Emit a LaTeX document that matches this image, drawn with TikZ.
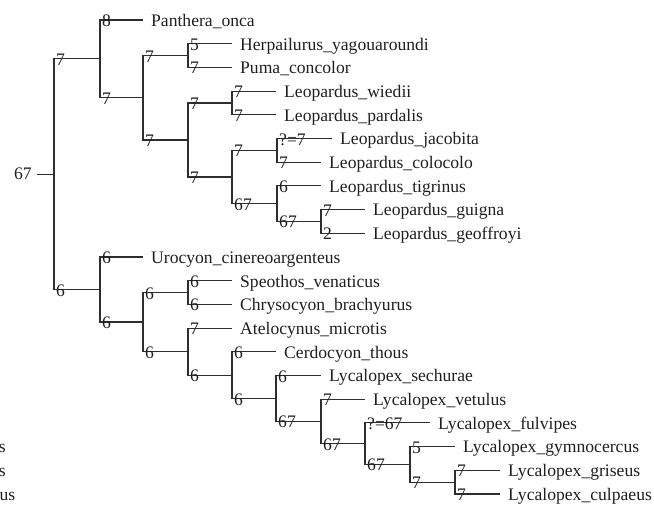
\documentclass[tikz,border=0pt]{standalone}
\usepackage{fontspec}
\setmainfont{Liberation Serif}
\newcommand\tedge[3]{%
  \draw[br] (#1) |- (#2);
  \node[supp, xshift=2pt, yshift=-6.5pt] at (#1 |- #2) {#3};}
\newcommand\ttip[3]{% name, end point, text
  \coordinate (#1) at (#2);
  \node[taxon, xshift=8pt, yshift=-6.3pt] (#1l) at (#1) {#3};}
\begin{document}
\begin{tikzpicture}[x=1pt,y=-1pt,
  br/.style={draw=black!82, line width=1.05pt},
  supp/.style={anchor=base west, inner sep=0pt, font=\fontsize{17.6}{20}\selectfont, text=black!88},
  taxon/.style={anchor=base west, inner sep=0pt, font=\fontsize{17.6}{20}\selectfont, text=black!88}]
\useasboundingbox (0,0) rectangle (654,507);
% internal nodes
\coordinate (R)  at (54,174.2);
\coordinate (F1) at (100,58.9);
\coordinate (FA) at (143,97.8);
\coordinate (HP) at (188,55.55);
\coordinate (LE) at (188,140);
\coordinate (WP) at (232,103);
\coordinate (LX) at (232,177);
\coordinate (JC) at (277,150.35);
\coordinate (TG) at (277,203.7);
\coordinate (GG) at (321,221.45);
\coordinate (C1) at (100,289.6);
\coordinate (CB) at (143,322);
\coordinate (SC) at (188,292.55);
\coordinate (AT) at (188,351.6);
\coordinate (CE) at (232,375.1);
\coordinate (SE) at (276,398.5);
\coordinate (VE) at (321,421.4);
\coordinate (FU) at (365,443.6);
\coordinate (GY) at (410,464.4);
\coordinate (GR) at (455,482.15);
% tips
\ttip{t0}{143,20}{Panthera\_onca}
\ttip{t1}{232,43.7}{Herpailurus\_yagouaroundi}
\ttip{t2}{232,67.4}{Puma\_concolor}
\ttip{t3}{276,91.1}{Leopardus\_wiedii}
\ttip{t4}{276,114.8}{Leopardus\_pardalis}
\ttip{t5}{332,138.5}{Leopardus\_jacobita}
\ttip{t6}{321,162.2}{Leopardus\_colocolo}
\ttip{t7}{321,185.9}{Leopardus\_tigrinus}
\ttip{t8}{365,209.6}{Leopardus\_guigna}
\ttip{t9}{365,233.3}{Leopardus\_geoffroyi}
\ttip{t10}{143,257}{Urocyon\_cinereoargenteus}
\ttip{t11}{232,280.7}{Speothos\_venaticus}
\ttip{t12}{232,304.4}{Chrysocyon\_brachyurus}
\ttip{t13}{232,328.1}{Atelocynus\_microtis}
\ttip{t14}{276,351.8}{Cerdocyon\_thous}
\ttip{t15}{321,375.5}{Lycalopex\_sechurae}
\ttip{t16}{365,399.2}{Lycalopex\_vetulus}
\ttip{t17}{430,422.9}{Lycalopex\_fulvipes}
\ttip{t18}{455,446.6}{Lycalopex\_gymnocercus}
\ttip{t19}{500,470.3}{Lycalopex\_griseus}
\ttip{t20}{500,494}{Lycalopex\_culpaeus}
% root stub
\coordinate (r0) at (37,174.2);
\draw[br] (r0) -- (R);
\node[supp, anchor=base east, xshift=-5pt, yshift=-5.5pt] (rootlab) at (r0) {67};
% edges
\tedge{R}{F1}{7}
\tedge{R}{C1}{6}
\tedge{F1}{t0}{8}
\tedge{F1}{FA}{7}
\tedge{FA}{HP}{7}
\tedge{FA}{LE}{7}
\tedge{HP}{t1}{5}
\tedge{HP}{t2}{7}
\tedge{LE}{WP}{7}
\tedge{LE}{LX}{7}
\tedge{WP}{t3}{7}
\tedge{WP}{t4}{7}
\tedge{LX}{JC}{7}
\tedge{LX}{TG}{67}
\tedge{JC}{t5}{?=7}
\tedge{JC}{t6}{7}
\tedge{TG}{t7}{6}
\tedge{TG}{GG}{67}
\tedge{GG}{t8}{7}
\tedge{GG}{t9}{2}
\tedge{C1}{t10}{6}
\tedge{C1}{CB}{6}
\tedge{CB}{SC}{6}
\tedge{CB}{AT}{6}
\tedge{SC}{t11}{6}
\tedge{SC}{t12}{6}
\tedge{AT}{t13}{7}
\tedge{AT}{CE}{6}
\tedge{CE}{t14}{6}
\tedge{CE}{SE}{6}
\tedge{SE}{t15}{6}
\tedge{SE}{VE}{67}
\tedge{VE}{t16}{7}
\tedge{VE}{FU}{67}
\tedge{FU}{t17}{?=67}
\tedge{FU}{GY}{67}
\tedge{GY}{t18}{5}
\tedge{GY}{GR}{7}
\tedge{GR}{t19}{7}
\tedge{GR}{t20}{7}
% fragments of a neighbouring figure at the left edge
\node[taxon, anchor=base east] (fa) at (6,452.9) {s};
\node[taxon, anchor=base east] (fb) at (6,476.6) {s};
\node[taxon, anchor=base east] (fc) at (15.5,500.3) {us};
\end{tikzpicture}
\end{document}
